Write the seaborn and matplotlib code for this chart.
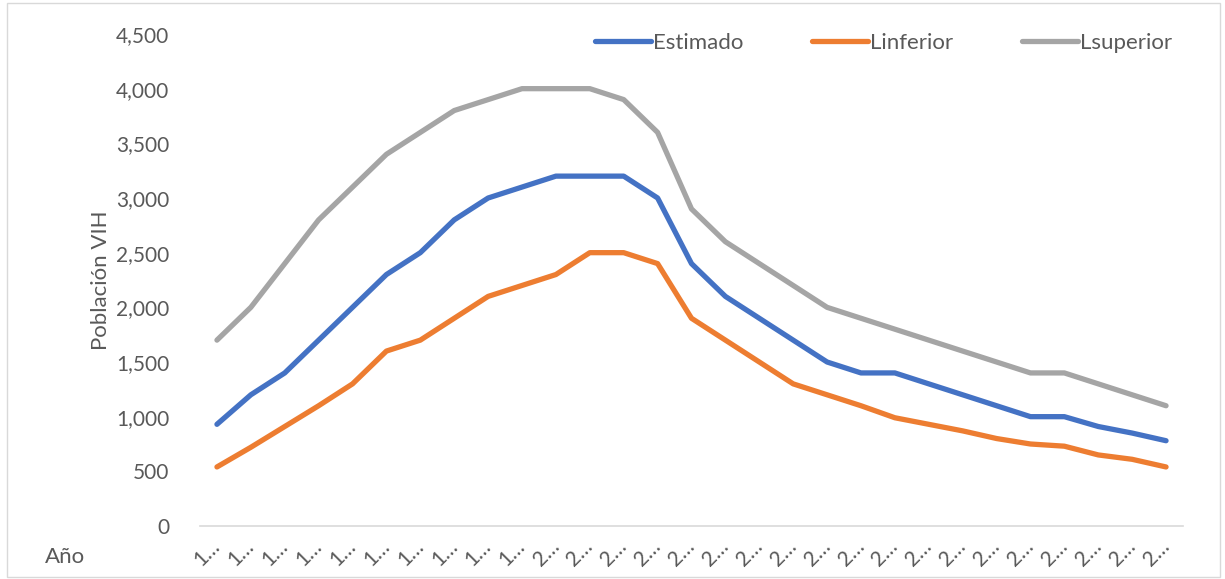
import pandas as pd
import numpy as np
import matplotlib.pyplot as plt
import seaborn as sns
from matplotlib.patches import Rectangle

# ---------------------------------------------------
# Data
# ---------------------------------------------------
years = list(range(1990, 2019))
estimado = [930, 1200, 1400, 1700, 2000, 2300, 2500, 2800, 3000, 3100,
            3200, 3200, 3200, 3000, 2400, 2100, 1900, 1700, 1500, 1400,
            1400, 1300, 1200, 1100, 1000, 1000, 910, 850, 780]
linferior = [540, 720, 910, 1100, 1300, 1600, 1700, 1900, 2100, 2200,
             2300, 2500, 2500, 2400, 1900, 1700, 1500, 1300, 1200, 1100,
             990, 930, 870, 800, 750, 730, 650, 610, 540]
lsuperior = [1700, 2000, 2400, 2800, 3100, 3400, 3600, 3800, 3900, 4000,
             4000, 4000, 3900, 3600, 2900, 2600, 2400, 2200, 2000, 1900,
             1800, 1700, 1600, 1500, 1400, 1400, 1300, 1200, 1100]
series = ["Estimado", "Linferior", "Lsuperior"]
colors = ["#4472C4", "#ED7D31", "#A5A5A5"]
# Excel truncates the rotated year labels to "1…" / "2…"
xlabels = [str(y)[0] + "…" for y in years]
yticks = list(range(0, 4501, 500))

df = pd.DataFrame({"idx": list(range(len(years))) * 3,
                   "valor": estimado + linferior + lsuperior,
                   "serie": [s for s in series for _ in years]})

# ---------------------------------------------------
# Plot
# ---------------------------------------------------
sns.set_style("white")
plt.rcParams["font.family"] = ["Lato", "DejaVu Sans"]
txt = "#595959"
fs = 15

fig = plt.figure(figsize=(12.25, 5.79), dpi=100)
ax = fig.add_axes([200 / 1225, 1 - 526 / 579, 983 / 1225, 492 / 579])

sns.lineplot(data=df, x="idx", y="valor", hue="serie", hue_order=series,
             palette=colors, linewidth=3.8, ax=ax, legend=True)
for line in ax.get_lines():
    line.set_solid_capstyle("round")
    line.set_solid_joinstyle("round")

ax.set_xlim(-0.5, len(years) - 0.5)
ax.set_ylim(0, 4500)
ax.set_yticks(yticks)
ax.set_yticklabels([f"{v:,}" for v in yticks], fontsize=fs, color=txt)
ax.set_xticks(range(len(years)))
ax.set_xticklabels(xlabels, rotation=45, ha="right", va="center",
                   rotation_mode="anchor", fontsize=fs, color=txt)
ax.tick_params(axis="both", length=0)
ax.tick_params(axis="y", pad=22)
ax.tick_params(axis="x", pad=12)
ax.set_xlabel("")
ax.set_ylabel("Población VIH", fontsize=16, color=txt, labelpad=4)

for s in ["top", "right", "left"]:
    ax.spines[s].set_visible(False)
ax.spines["bottom"].set_color("#D9D9D9")
ax.spines["bottom"].set_linewidth(1.2)

ax.legend(loc="center right", bbox_to_anchor=(1.0, 0.982), ncol=3,
          frameon=False, fontsize=16, handlelength=2.5, handletextpad=0.1,
          columnspacing=3.1, borderpad=0, labelcolor=txt)

fig.text(45 / 1225, 1 - 557 / 579, "Año", fontsize=16, color=txt,
         va="center", ha="left")
fig.patches.append(Rectangle((7 / 1225, 2 / 579), 1213 / 1225, 574 / 579,
                             transform=fig.transFigure, fill=False,
                             edgecolor="#D9D9D9", linewidth=1))

fig.savefig("out.png", dpi=100)
